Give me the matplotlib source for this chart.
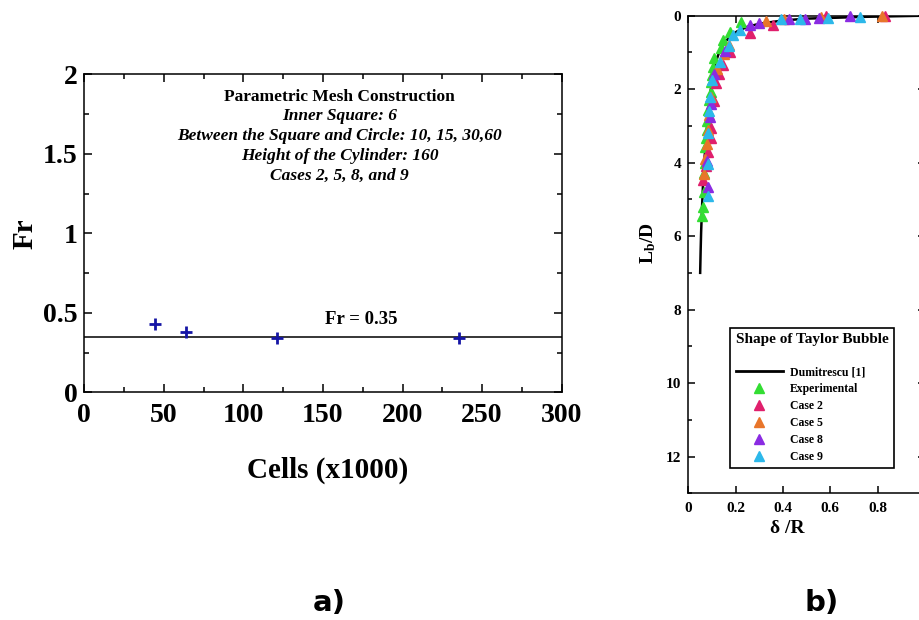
import matplotlib
matplotlib.use("Agg")
import matplotlib.pyplot as plt
from matplotlib.ticker import MultipleLocator, FuncFormatter
from matplotlib.lines import Line2D

plt.rcParams["font.family"] = ["Liberation Serif", "DejaVu Serif"]
plt.rcParams["font.weight"] = "bold"
plt.rcParams["mathtext.fontset"] = "custom"
plt.rcParams["mathtext.rm"] = "Liberation Serif:bold"
plt.rcParams["mathtext.it"] = "Liberation Serif:italic:bold"

# panel a) mesh study
cells = [44.4, 63.7, 120.9, 235.7]
fr_values = [0.43, 0.377, 0.343, 0.34]
fr_ref = 0.35

info_lines = [
    "Parametric Mesh Construction",
    "Inner Square: 6",
    "Between the Square and Circle: 10, 15, 30,60",
    "Height of the Cylinder: 160",
    "Cases 2, 5, 8, and 9",
]

# panel b) bubble shape (delta/R, Lb/D)
dum_delta = [0.050, 0.052, 0.054, 0.058, 0.062, 0.067, 0.073, 0.080, 0.088, 0.100, 0.114,
             0.130, 0.150, 0.175, 0.205, 0.25, 0.30, 0.40, 0.50, 0.60, 0.75, 1.0]
dum_L = [7.0, 6.4, 5.9, 5.2, 4.6, 4.0, 3.5, 2.9, 2.3, 1.8, 1.3,
         1.0, 0.75, 0.58, 0.43, 0.30, 0.22, 0.13, 0.08, 0.06, 0.03, 0.0]

exp_delta = [0.057, 0.061, 0.066, 0.068, 0.069, 0.072, 0.076, 0.079, 0.081, 0.085,
             0.089, 0.094, 0.097, 0.100, 0.104, 0.108, 0.139, 0.147, 0.178, 0.224]
exp_L = [5.45, 5.20, 4.79, 4.29, 4.02, 3.57, 3.34, 3.11, 2.88, 2.57,
         2.30, 2.07, 1.80, 1.62, 1.39, 1.16, 0.88, 0.66, 0.45, 0.18]

case2_delta = [0.062, 0.075, 0.085, 0.094, 0.097, 0.108, 0.118, 0.128, 0.146, 0.178,
               0.259, 0.357, 0.58, 0.83]
case2_L = [4.47, 4.10, 3.70, 3.34, 3.05, 2.33, 1.84, 1.60, 1.33, 0.98,
           0.48, 0.25, 0.02, 0.02]

case5_delta = [0.065, 0.072, 0.079, 0.082, 0.088, 0.095, 0.120, 0.150, 0.170, 0.33,
               0.405, 0.56, 0.82]
case5_L = [4.30, 3.90, 3.50, 3.10, 2.70, 2.20, 1.45, 1.05, 0.80, 0.14,
           0.08, 0.03, 0.01]

case8_delta = [0.083, 0.080, 0.090, 0.095, 0.110, 0.156, 0.259, 0.30, 0.426, 0.494,
               0.552, 0.685]
case8_L = [4.65, 3.95, 2.75, 2.40, 1.60, 0.95, 0.24, 0.20, 0.10, 0.09,
           0.05, 0.02]

case9_delta = [0.083, 0.082, 0.085, 0.088, 0.092, 0.102, 0.133, 0.170, 0.189, 0.22,
               0.39, 0.47, 0.59, 0.727]
case9_L = [4.90, 4.05, 3.20, 2.60, 2.20, 1.75, 1.25, 0.82, 0.52, 0.40,
           0.10, 0.08, 0.05, 0.04]

series = [
    ("Experimental", exp_delta, exp_L, "#33dd33"),
    ("Case 2", case2_delta, case2_L, "#e01f6c"),
    ("Case 5", case5_delta, case5_L, "#e8752a"),
    ("Case 8", case8_delta, case8_L, "#8a2be2"),
    ("Case 9", case9_delta, case9_L, "#2cb8ea"),
]

fmt = FuncFormatter(lambda v, p: f"{v:g}")

fig = plt.figure(figsize=(9.19, 6.2), dpi=100)

# ---- a)
ax = fig.add_axes([0.0917, 0.3673, 0.5195, 0.5129])
ax.axhline(fr_ref, color="black", lw=1.1)
ax.plot(cells, fr_values, ls="none", marker="+", ms=8, mew=2, color="#1515a5")
ax.set_xlim(0, 300)
ax.set_ylim(0, 2)
ax.xaxis.set_major_locator(MultipleLocator(50))
ax.xaxis.set_minor_locator(MultipleLocator(25))
ax.yaxis.set_major_locator(MultipleLocator(0.5))
ax.yaxis.set_minor_locator(MultipleLocator(0.25))
ax.xaxis.set_major_formatter(fmt)
ax.yaxis.set_major_formatter(fmt)
ax.tick_params(which="both", direction="in", top=True, right=True, width=1.1)
ax.tick_params(which="major", length=6)
ax.tick_params(which="minor", length=3.5)
ax.tick_params(axis="x", labelsize=20, pad=8)
ax.tick_params(axis="y", labelsize=20, pad=5)
for s in ax.spines.values():
    s.set_linewidth(1.1)

ax.set_xlabel("Cells (x1000)", fontsize=21, fontweight="bold")
ax.xaxis.set_label_coords(0.509, -0.244)
ax.xaxis.label.set_va("center")
ax.set_ylabel("Fr", fontsize=21, fontweight="bold")
ax.yaxis.set_label_coords(-0.124, 0.5)
ax.yaxis.label.set_va("center")

line_y = [0.93, 0.868, 0.806, 0.744, 0.682]
for i, (txt, yy) in enumerate(zip(info_lines, line_y)):
    ax.text(0.535, yy, txt, transform=ax.transAxes, ha="center", va="center",
            fontsize=12.5, fontweight="bold", style="normal" if i == 0 else "italic")

ax.text(174, 0.46, f"Fr = {fr_ref}", ha="center", va="center", fontsize=13.5, fontweight="bold")

# ---- b)
bx = fig.add_axes([0.749, 0.2044, 0.2575, 0.7703])
bx.plot(dum_delta, dum_L, color="black", lw=1.8, zorder=2)
for name, dx, dy, col in series:
    bx.plot(dx, dy, ls="none", marker="^", ms=7, color=col, mec=col, clip_on=False, zorder=3)
bx.set_xlim(0, 1)
bx.set_ylim(13, 0)
bx.xaxis.set_major_locator(MultipleLocator(0.2))
bx.yaxis.set_major_locator(MultipleLocator(2))
bx.yaxis.set_minor_locator(MultipleLocator(1))
bx.xaxis.set_major_formatter(fmt)
bx.yaxis.set_major_formatter(fmt)
bx.tick_params(which="both", direction="in", top=True, right=True, width=1.1, labelsize=11)
bx.tick_params(which="major", length=5)
bx.tick_params(which="minor", length=3, right=False)
bx.tick_params(axis="x", pad=6)
bx.tick_params(axis="y", pad=5)
for s in bx.spines.values():
    s.set_linewidth(1.1)

bx.set_xlabel("δ /R", fontsize=14, fontweight="bold")
bx.xaxis.set_label_coords(0.42, -0.073)
bx.xaxis.label.set_va("center")
bx.set_ylabel(r"L$_\mathrm{b}$/D", fontsize=14, fontweight="bold")
bx.yaxis.set_label_coords(-0.171, 0.524)
bx.yaxis.label.set_va("center")

handles = [Line2D([], [], color="black", lw=2)]
labels = ["Dumitrescu [1]"]
for name, dx, dy, col in series:
    handles.append(Line2D([], [], ls="none", marker="^", ms=7, color=col))
    labels.append(name)
leg = bx.legend(handles, labels, title="Shape of Taylor Bubble\n", loc="lower left",
                bbox_to_anchor=(0.177, 0.052), borderaxespad=0, fontsize=8.5,
                title_fontproperties={"size": 11, "weight": "bold"},
                handlelength=4, handletextpad=0.6, labelspacing=0.42,
                borderpad=0.45, fancybox=False, edgecolor="black", framealpha=1)
leg.get_frame().set_linewidth(1.2)
leg._legend_box.align = "left"

fig.text(329 / 919, 1 - 603 / 620, "a)", ha="center", va="center", fontsize=21,
         fontweight="bold", family="DejaVu Sans")
fig.text(822 / 919, 1 - 603 / 620, "b)", ha="center", va="center", fontsize=21,
         fontweight="bold", family="DejaVu Sans")

fig.savefig("out.png", dpi=100)
